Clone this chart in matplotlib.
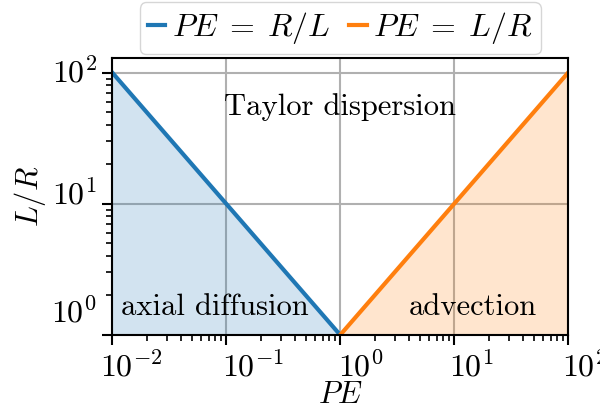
import matplotlib
matplotlib.use('Agg')
import matplotlib.pyplot as plt
from matplotlib.ticker import LogLocator, NullFormatter
from matplotlib.transforms import ScaledTranslation
import numpy as np

plt.rcParams['font.family'] = 'serif'
plt.rcParams['font.serif'] = ['cmr10', 'DejaVu Serif']
plt.rcParams['mathtext.fontset'] = 'cm'
plt.rcParams['axes.formatter.use_mathtext'] = True
plt.rcParams['font.size'] = 22

# data
pe_diff = [1e-2, 1e0]
lr_diff = [1e2, 1e0]
pe_adv = [1e0, 1e2]
lr_adv = [1e0, 1e2]
xticks = [1e-2, 1e-1, 1e0, 1e1, 1e2]
yticks = [1e0, 1e1, 1e2]

fig = plt.figure(figsize=(6, 4.12), dpi=100)
ax = fig.add_axes([0.187, 0.187, 0.76, 0.672])

ax.plot(pe_diff, lr_diff, color='C0', lw=3, label=r'$PE\;=\;R/L$')
ax.plot(pe_adv, lr_adv, color='C1', lw=3, label=r'$PE\;=\;L/R$')
ax.fill_between(pe_diff, lr_diff, 1, color='C0', alpha=0.2, lw=0)
ax.fill_between(pe_adv, lr_adv, 1, color='C1', alpha=0.2, lw=0)

ax.set_xscale('log')
ax.set_yscale('log')
ax.set_xlim(1e-2, 1e2)
ax.set_ylim(1e0, 10**2.11)
ax.set_xticks(xticks)
ax.set_yticks(yticks)
for a in (ax.xaxis, ax.yaxis):
    a.set_minor_locator(LogLocator(base=10, subs=np.arange(2, 10), numticks=20))
    a.set_minor_formatter(NullFormatter())
ax.grid(True, which='major', color='#b0b0b0', lw=1.5)
ax.set_axisbelow(True)

ax.text(1, 55, 'Taylor dispersion', ha='center', va='center')
ax.text(0.08, 1.62, 'axial diffusion', ha='center', va='center')
ax.text(14.6, 1.62, 'advection', ha='center', va='center')

ax.set_xlabel(r'$PE$', labelpad=0)
ax.set_ylabel(r'$L/R$', labelpad=2)
for s in ax.spines.values():
    s.set_linewidth(1.5)
ax.tick_params(which='major', length=7, width=1.5, labelsize=23)
ax.tick_params(axis='x', which='major', pad=4)
ax.tick_params(axis='y', which='major', pad=4)
ax.tick_params(which='minor', length=4.5, width=1.2)

# tick label placement as in the original
xoff = [-12, -4, -2, -5, -6]
for t, dx in zip(ax.xaxis.get_major_ticks(), xoff):
    t.label1.set_ha('left')
    t.label1.set_transform(t.label1.get_transform() + ScaledTranslation(dx / 100, 0, fig.dpi_scale_trans))
yoff = [13, 0, -10]
for t, dy in zip(ax.yaxis.get_major_ticks(), yoff):
    t.label1.set_va('baseline')
    t.label1.set_transform(t.label1.get_transform() + ScaledTranslation(0, dy / 100, fig.dpi_scale_trans))

ax.legend(loc='lower center', bbox_to_anchor=(0.5, 1.0), ncol=2, handlelength=0.55,
          columnspacing=0.6, handletextpad=0.2, borderpad=0.25, borderaxespad=0.12,
          fontsize=23)

plt.savefig('out.png', dpi=100)
